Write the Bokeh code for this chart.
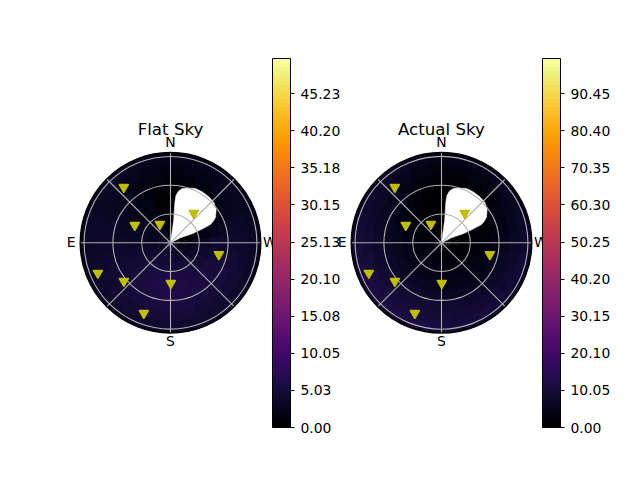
from bokeh.plotting import figure
from bokeh.embed import file_html
from bokeh.resources import INLINE
from bokeh.core.properties import value
from bokeh.models import ColumnDataSource, LinearColorMapper, ColorBar, FixedTicker, NumeralTickFormatter
from bokeh.palettes import Inferno256
from bokeh.transform import transform
import math

# ---- data -----
titles = ["Flat Sky", "Actual Sky"]
compass = ["N", "E", "S", "W"]
compass_az = [0, 90, 180, 270]
ring_zen = [30, 60, 90]
spoke_az = [0, 45, 90, 135, 180, 225, 270, 315]
sky_limit = 94

marker_az = [40, 63.7, 29.7, 322, 256.4, 112.6, 129.4, 180.4, 159.2]
marker_zen = [75.7, 41.5, 22.4, 39.3, 51.8, 82, 62.9, 42, 78.3]

mask_az = [0, 352, 353.9, 353.5, 351.5, 347.9, 341.5, 335.3, 328.1, 320.2, 312.9, 306.4, 299.4, 296.5, 294.6, 293.4, 292.5, 297]
mask_zen = [0, 23.5, 42.3, 49.3, 54.1, 57.9, 60.1, 62.3, 62.5, 62.4, 61.7, 59.1, 53.8, 49.5, 45.8, 35.9, 24.5, 11.6]

zen_edges = [0, 10, 20, 30, 40, 50, 60, 70, 80, 90, 94]
az_step = 15

flat_sky = [
    [1.2, .6, .3, .2, .2, .4, 1, 1.6, 2.2, 2.2],
    [1.8, 1.2, .9, .7, .7, 1, 1.5, 2.1, 2.6, 2.4],
    [2.2, 1.8, 1.5, 1.4, 1.4, 1.7, 2.1, 2.6, 2.9, 2.5],
    [2.5, 2.2, 2.1, 2, 2, 2.3, 2.7, 3, 3.2, 2.6],
    [2.7, 2.6, 2.6, 2.6, 2.7, 2.9, 3.1, 3.3, 3.3, 2.6],
    [2.9, 2.9, 3, 3, 3.2, 3.3, 3.5, 3.5, 3.4, 2.7],
    [3, 3.2, 3.4, 3.5, 3.6, 3.7, 3.7, 3.7, 3.5, 2.7],
    [3.2, 3.5, 3.8, 4, 4.1, 4.1, 4, 3.9, 3.6, 2.8],
    [3.3, 3.8, 4.2, 4.5, 4.6, 4.6, 4.4, 4.1, 3.8, 2.9],
    [3.5, 4.1, 4.7, 5, 5.1, 5, 4.8, 4.4, 3.9, 3],
    [3.6, 4.3, 5, 5.5, 5.6, 5.4, 5.1, 4.6, 4.1, 3.1],
    [3.5, 4.4, 5.2, 5.8, 6, 5.7, 5.3, 4.8, 4.2, 3.1],
    [3.4, 4.3, 5.2, 5.9, 6.2, 5.9, 5.4, 4.8, 4.2, 3.1],
    [3.2, 4.1, 5, 5.6, 6, 5.7, 5.3, 4.8, 4.2, 3.1],
    [3, 3.8, 4.7, 5.3, 5.6, 5.5, 5.1, 4.6, 4.1, 3.1],
    [2.7, 3.5, 4.3, 5, 5.3, 5.3, 5, 4.5, 4, 3],
    [2.4, 3.1, 3.9, 4.6, 5, 5.1, 4.9, 4.4, 3.9, 3],
    [2, 2.6, 3.4, 4.1, 4.6, 4.8, 4.6, 4.2, 3.7, 2.9],
    [1.5, 2, 2.7, 3.3, 3.9, 4.2, 4.1, 3.9, 3.4, 2.8],
    [.7, .8, 1.2, 1.8, 2.7, 3.2, 3.4, 3.4, 3.1, 2.6],
    [.2, .2, .2, .3, .9, 2, 2.7, 2.9, 2.8, 2.4],
    [.1, .1, .1, .1, .3, 1.2, 2, 2.5, 2.6, 2.3],
    [.1, .1, .1, .1, .1, .7, 1.5, 2.1, 2.4, 2.2],
    [.5, .2, .1, .1, .1, .4, 1.1, 1.7, 2.2, 2.2],
]
actual_sky = [
    [1, .4, .2, .2, .2, .4, 1.2, 2.5, 4, 4.5],
    [1.3, .8, .6, .6, .7, 1.2, 2.2, 3.7, 5, 5],
    [1.5, 1.2, 1.1, 1.2, 1.6, 2.4, 3.6, 5, 6, 5.5],
    [1.7, 1.6, 1.6, 2, 2.7, 3.6, 4.8, 6.2, 7.2, 6],
    [1.8, 1.9, 2.2, 2.8, 3.6, 4.8, 6, 7.3, 8.3, 6.5],
    [1.9, 2.1, 2.7, 3.5, 4.5, 5.7, 7, 8.3, 9.2, 7],
    [2, 2.3, 3.1, 4, 5.1, 6.4, 7.8, 9, 9.9, 7.3],
    [2, 2.5, 3.4, 4.5, 5.7, 7, 8.4, 9.7, 10.5, 7.7],
    [2, 2.6, 3.6, 4.8, 6.1, 7.4, 8.9, 10.2, 11, 8],
    [2, 2.6, 3.6, 4.9, 6.2, 7.6, 9.1, 10.4, 11.2, 8.2],
    [2, 2.5, 3.5, 4.8, 6.1, 7.5, 9, 10.3, 11.2, 8.2],
    [1.9, 2.4, 3.3, 4.5, 5.8, 7.2, 8.7, 10, 11, 8.1],
    [1.8, 2.2, 3, 4.2, 5.4, 6.8, 8.3, 9.7, 10.7, 8],
    [1.7, 2, 2.8, 3.8, 5, 6.4, 7.9, 9.3, 10.3, 7.8],
    [1.6, 1.9, 2.6, 3.5, 4.7, 6.1, 7.6, 9, 10, 7.5],
    [1.5, 1.7, 2.3, 3.2, 4.4, 5.8, 7.3, 8.7, 9.7, 7.3],
    [1.3, 1.5, 2, 2.8, 4, 5.4, 6.9, 8.3, 9.3, 7],
    [1, 1.2, 1.6, 2.3, 3.4, 4.8, 6.3, 7.7, 8.8, 6.8],
    [.7, .8, 1.1, 1.7, 2.6, 3.9, 5.4, 7, 8.1, 6.3],
    [.3, .3, .5, .9, 1.6, 2.8, 4.2, 5.8, 7, 5.7],
    [.1, .1, .1, .2, .6, 1.7, 3.1, 4.7, 6, 5.2],
    [.1, .1, .1, .1, .2, 1, 2.3, 3.8, 5.2, 4.8],
    [.1, .1, .1, .1, .1, .6, 1.7, 3.1, 4.5, 4.5],
    [.4, .2, .1, .1, .1, .4, 1.3, 2.7, 4.1, 4.3],
]
flat_ticks = [0, 5.03, 10.05, 15.08, 20.10, 25.13, 30.15, 35.18, 40.20, 45.23]
actual_ticks = [0, 10.05, 20.10, 30.15, 40.20, 50.25, 60.30, 70.35, 80.40, 90.45]
flat_max = 50
actual_max = 100

# ---- layout -----
W, H = 624, 464
PX = 0.96                   # pixels per degree of zenith angle
centres_px = [(170, 242.3), (441, 242.3)]
FONT = value("DejaVu Sans")
OVERLAP_ANGLE = 2.0         # degrees; cells overlap so no background shows in the seams
OVERLAP_R = 1.5

p = figure(width=W, height=H, output_backend="svg", toolbar_location=None,
           x_range=(0, W / PX), y_range=(0, H / PX),
           x_axis_type=None, y_axis_type=None, min_border=0,
           outline_line_color=None, background_fill_color="white")


def polar(cx, cy, az, zen):
    a = math.radians(90 + az)
    return cx + zen * math.cos(a), cy + zen * math.sin(a)


panels = [(flat_sky, flat_max, flat_ticks, 272), (actual_sky, actual_max, actual_ticks, 542)]
for i, (sky, vmax, ticks, bar_x) in enumerate(panels):
    cx = centres_px[i][0] / PX
    cy = (H - centres_px[i][1]) / PX
    mapper = LinearColorMapper(palette=Inferno256, low=0, high=vmax)

    rows = dict(x=[], y=[], r0=[], r1=[], a0=[], a1=[], v=[])
    # outermost rings first, so each inner ring overlaps the one outside it
    for iz in range(len(zen_edges) - 2, -1, -1):
        for ia, row in enumerate(sky):
            az = ia * az_step
            rows["x"].append(cx)
            rows["y"].append(cy)
            rows["r0"].append(zen_edges[iz])
            rows["r1"].append(min(zen_edges[iz + 1] + OVERLAP_R, sky_limit))
            rows["a0"].append(math.radians(90 + az - az_step / 2))
            rows["a1"].append(math.radians(90 + az + az_step / 2 + OVERLAP_ANGLE))
            rows["v"].append(row[iz])
    p.annular_wedge("x", "y", "r0", "r1", "a0", "a1", source=ColumnDataSource(rows),
                    fill_color=transform("v", mapper), line_color=None)

    mx, my = zip(*[polar(cx, cy, a, z) for a, z in zip(mask_az, mask_zen)])
    p.patch(list(mx), list(my), fill_color="white", line_color="white", line_width=0.5)

    p.circle([cx] * len(ring_zen), [cy] * len(ring_zen), radius=ring_zen,
             fill_color=None, line_color="#b0b0b0", line_width=1.1)
    ex, ey = zip(*[polar(cx, cy, a, sky_limit) for a in spoke_az])
    p.segment([cx] * len(ex), [cy] * len(ex), list(ex), list(ey),
              line_color="#b0b0b0", line_width=1.1)
    p.circle([cx], [cy], radius=sky_limit, fill_color=None, line_color="black", line_width=1.5)

    px, py = zip(*[polar(cx, cy, a, z) for a, z in zip(marker_az, marker_zen)])
    p.scatter(list(px), list(py), marker="inverted_triangle", size=9.5,
              fill_color="#bfbf00", line_color="#bfbf00", line_width=1.3)

    lx, ly = zip(*[polar(cx, cy, a, 103.5) for a in compass_az])
    p.text(list(lx), list(ly), text=compass, text_font=FONT, text_font_size="13.9px",
           text_align="center", text_baseline="middle", text_color="black", y_offset=-1)
    p.text([cx], [cy + 118], text=[titles[i]], text_font=FONT, text_font_size="16.67px",
           text_align="center", text_baseline="middle", text_color="black")

    bar = ColorBar(color_mapper=mapper, location=(bar_x, 37), width=18, height=369,
                   padding=0, margin=0, ticker=FixedTicker(ticks=ticks),
                   formatter=NumeralTickFormatter(format="0.00"),
                   major_label_text_font="DejaVu Sans", major_label_text_font_size="13.9px",
                   major_label_text_color="black", major_tick_line_color="black",
                   major_tick_in=0, major_tick_out=4, minor_tick_line_color=None,
                   label_standoff=6, bar_line_color="black", bar_line_width=1,
                   border_line_color=None, background_fill_color=None)
    p.add_layout(bar, "center")

open("out.html", "w").write(file_html(p, INLINE))
